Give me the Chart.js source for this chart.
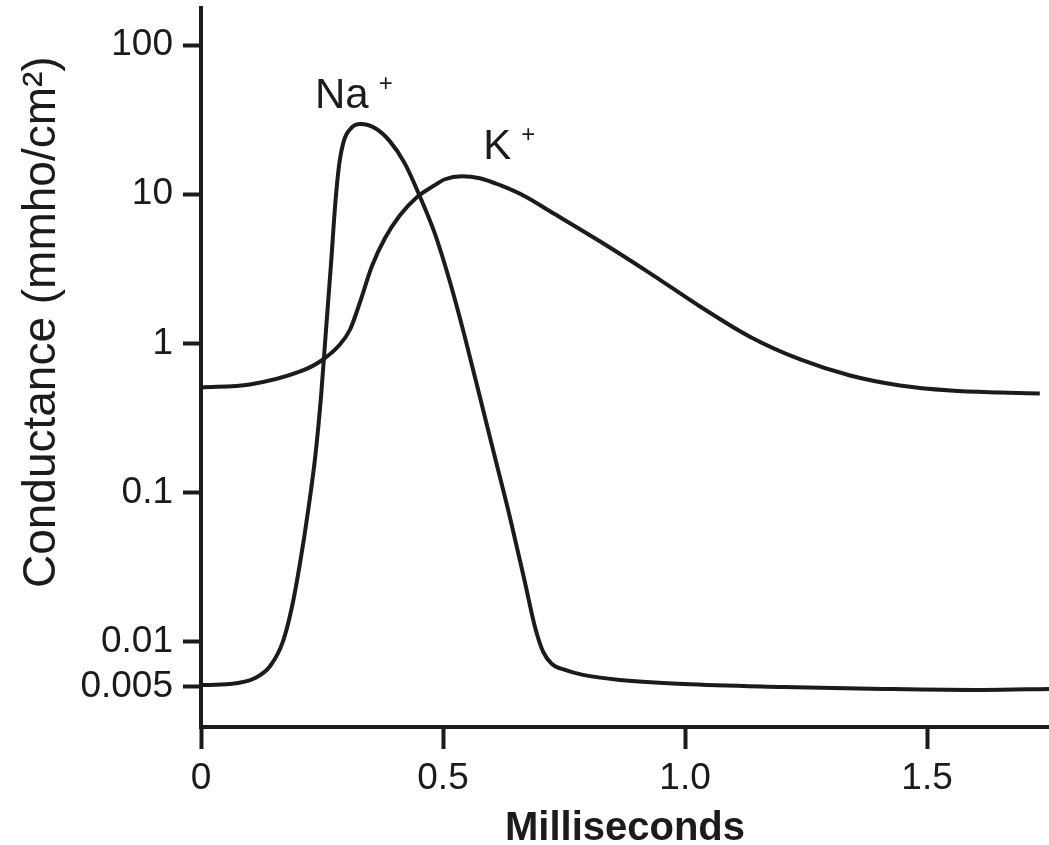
<!DOCTYPE html>
<html>
<head>
<meta charset="utf-8">
<title>Conductance</title>
<script src="https://cdn.jsdelivr.net/npm/chart.js@4.4.1/dist/chart.umd.min.js"></script>
<style>
  html, body { margin: 0; padding: 0; background: #fff; }
  #wrap { width: 1049px; height: 845px; }
</style>
</head>
<body>
<div id="wrap"><canvas id="condChart" width="1049" height="845"></canvas></div>
<script>
// Na+ conductance (mmho/cm2) against time (ms)
const naTimes = [0, 0.060, 0.112, 0.143, 0.169, 0.188, 0.205, 0.221, 0.236, 0.248, 0.258, 0.269,
  0.277, 0.285, 0.295, 0.310, 0.329, 0.360, 0.390, 0.421, 0.452, 0.483, 0.514, 0.545, 0.576,
  0.607, 0.638, 0.669, 0.690, 0.707, 0.725, 0.752, 0.789, 0.866, 0.996, 1.202, 1.409, 1.616, 1.752];
const naValues = [0.00514, 0.00522, 0.00573, 0.0069, 0.0100, 0.0172, 0.0344, 0.0745, 0.174, 0.441,
  1.20, 3.55, 8.30, 15.4, 22.7, 27.7, 29.5, 27.7, 22.7, 16.1, 9.70, 5.47, 2.61, 1.11, 0.441,
  0.174, 0.0690, 0.0253, 0.0126, 0.00857, 0.00712, 0.00649, 0.00601, 0.00556, 0.00522, 0.00499,
  0.00484, 0.00476, 0.00484];

// K+ conductance
const kTimes = [0, 0.101, 0.205, 0.246, 0.287, 0.308, 0.329, 0.353, 0.380, 0.411, 0.446, 0.483,
  0.504, 0.539, 0.576, 0.618, 0.669, 0.721, 0.824, 0.928, 1.031, 1.134, 1.238, 1.341, 1.444,
  1.548, 1.651, 1.733];
const kValues = [0.507, 0.531, 0.649, 0.757, 0.985, 1.24, 1.91, 3.29, 5.07, 7.23, 9.55, 11.5,
  12.6, 13.2, 12.8, 11.5, 9.70, 7.69, 4.84, 2.95, 1.77, 1.11, 0.781, 0.610, 0.523, 0.484, 0.469,
  0.462];

const xTickValues = [0, 0.5, 1.0, 1.5];
const xTickLabels = ["0", "0.5", "1.0", "1.5"];
const yTickValues = [0.005, 0.01, 0.1, 1, 10, 100];
const yTickLabels = ["0.005", "0.01", "0.1", "1", "10", "100"];

// curve names, placed in data coordinates
const ionNames = ["Na", "K"];
const ionLabelTimes = [0.2355, 0.583];
const ionLabelValues = [37.8, 17.2];

const yTitle = "Conductance (mmho/cm²)";

const ink = "#1b1b1b";
const fontFamily = "'Liberation Sans', Arial, Helvetica, sans-serif";

const toPoints = (ts, vs) => ts.map((t, i) => ({ x: t, y: vs[i] }));

// draws "Na +" / "K +" beside the curves and the rotated y title
const figureText = {
  id: "figureText",
  afterDatasetsDraw(chart) {
    const { ctx, chartArea, scales: { x, y } } = chart;
    ctx.save();
    ctx.fillStyle = ink;
    ctx.textBaseline = "alphabetic";
    ctx.textAlign = "left";
    ionNames.forEach((name, i) => {
      const px = x.getPixelForValue(ionLabelTimes[i]);
      const py = y.getPixelForValue(ionLabelValues[i]);
      ctx.font = "42px " + fontFamily;
      ctx.fillText(name, px, py);
      const w = ctx.measureText(name).width;
      ctx.font = "24px " + fontFamily;
      ctx.fillText("+", px + w + 10, py - 17);
    });

    // y title sits a bit above the middle of the axis in the original
    ctx.translate(42, chartArea.top + (chartArea.bottom - chartArea.top) * 0.437);
    ctx.rotate(-Math.PI / 2);
    ctx.textAlign = "center";
    ctx.textBaseline = "middle";
    ctx.font = "46px " + fontFamily;
    ctx.fillText(yTitle, 0, 0);
    ctx.restore();
  }
};

const config = {
  type: "line",
  data: {
    datasets: [
      {
        label: "Na+",
        data: toPoints(naTimes, naValues),
        borderColor: ink,
        borderWidth: 4,
        pointRadius: 0,
        cubicInterpolationMode: "monotone",
        fill: false
      },
      {
        label: "K+",
        data: toPoints(kTimes, kValues),
        borderColor: ink,
        borderWidth: 4,
        pointRadius: 0,
        cubicInterpolationMode: "monotone",
        fill: false
      }
    ]
  },
  options: {
    responsive: false,
    animation: false,
    layout: { padding: { top: 8, right: 0, bottom: 0, left: 0 } },
    plugins: {
      legend: { display: false },
      tooltip: { enabled: false }
    },
    scales: {
      x: {
        type: "linear",
        bounds: "data",
        min: 0,
        max: 1.752,
        afterBuildTicks: s => { s.ticks = xTickValues.map(v => ({ value: v })); },
        afterFit: s => { s.height = 118; s.paddingLeft = 0; s.paddingRight = 0; },
        ticks: {
          callback: (v, i) => xTickLabels[i],
          autoSkip: false,
          maxRotation: 0,
          padding: 8,
          color: ink,
          font: { family: fontFamily, size: 37 }
        },
        grid: { drawOnChartArea: false, drawTicks: true, tickLength: 22, tickWidth: 4, tickColor: ink },
        border: { color: ink, width: 4 },
        title: {
          display: true,
          text: "Milliseconds",
          color: ink,
          font: { family: fontFamily, size: 40, weight: "bold" },
          padding: { top: 0, bottom: -8 }
        }
      },
      y: {
        type: "logarithmic",
        bounds: "data",
        min: 0.00269,
        max: 177,
        afterBuildTicks: s => { s.ticks = yTickValues.map(v => ({ value: v })); },
        afterFit: s => { s.width = 201; s.paddingTop = 0; s.paddingBottom = 0; },
        ticks: {
          callback: (v, i) => yTickLabels[i],
          autoSkip: false,
          padding: 10,
          color: ink,
          font: { family: fontFamily, size: 37 }
        },
        grid: { drawOnChartArea: false, drawTicks: true, tickLength: 18, tickWidth: 4, tickColor: ink },
        border: { color: ink, width: 4 },
        title: { display: false }
      }
    }
  },
  plugins: [figureText]
};

window.onload = () => {
  const ctx = document.getElementById("condChart").getContext("2d");
  new Chart(ctx, config);
};
</script>
</body>
</html>
